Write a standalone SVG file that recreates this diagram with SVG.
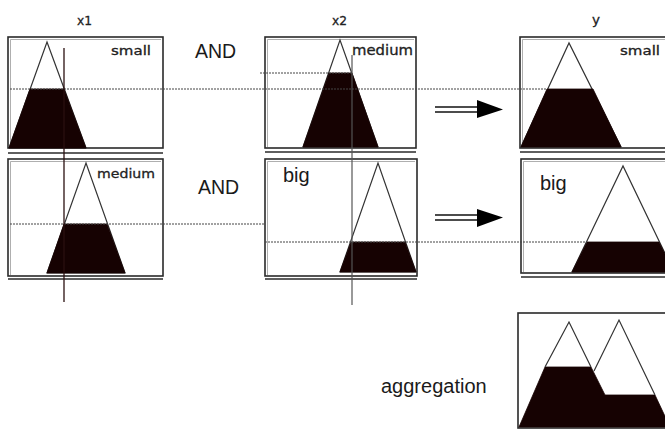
<svg xmlns="http://www.w3.org/2000/svg" width="665" height="429" viewBox="0 0 665 429">
<style>
.box{fill:#fff;stroke:#2a2a2a;stroke-width:1.6}
.inner{fill:none;stroke:#9a9a9a;stroke-width:0.8}
.base{stroke:#2a2a2a;stroke-width:1.4}
.tri{fill:none;stroke:#333;stroke-width:1.2;stroke-linejoin:miter}
.cut{fill:#160202;stroke:#160202;stroke-width:0.8}
.dot{stroke:#444;stroke-width:1;stroke-dasharray:2 1;fill:none}
.inp{stroke:#2a1010;stroke-width:1.3}
.inp2{stroke:#555;stroke-width:1.2}
.lbl{font-family:"DejaVu Sans",Verdana,sans-serif;fill:#222;stroke:#222;stroke-width:0.3}
.big{font-family:"Liberation Sans",Arial,sans-serif;fill:#1a1a1a}
.shaft{stroke:#111;stroke-width:1.6}
.head{fill:#000}
</style>

<g id="headers">
<text class="lbl" x="77" y="25" font-size="13" textLength="15" lengthAdjust="spacingAndGlyphs">x1</text>
<text class="lbl" x="332" y="25" font-size="13" textLength="15" lengthAdjust="spacingAndGlyphs">x2</text>
<text class="lbl" x="592" y="24" font-size="13" textLength="8" lengthAdjust="spacingAndGlyphs">y</text>
<text class="big" x="195" y="58" font-size="19.5">AND</text>
<text class="big" x="198" y="194" font-size="19.5">AND</text>
<text class="big" x="381" y="393" font-size="20">aggregation</text>
</g>

<g id="x1-small">
<rect class="box" x="8" y="37" width="155" height="111"/>
<polyline class="inner" points="10.5,147 10.5,39.5 161,39.5"/>
<line class="base" x1="8" y1="153" x2="163" y2="153"/>
<polygon class="tri" points="9,148 47,42 86,148"/>
<polygon class="cut" points="9,148 30,89 64,89 86,148"/>
<text class="lbl" x="111" y="55" font-size="12" textLength="40" lengthAdjust="spacingAndGlyphs">small</text>
</g>

<g id="x1-medium">
<rect class="box" x="8" y="159" width="155" height="117"/>
<polyline class="inner" points="10.5,275 10.5,161.5 161,161.5"/>
<line class="base" x1="8" y1="279" x2="163" y2="279"/>
<polygon class="tri" points="47,273 86,163 125,273"/>
<polygon class="cut" points="47,273 64,224 107,224 125,273"/>
<text class="lbl" x="97" y="178" font-size="13" textLength="58" lengthAdjust="spacingAndGlyphs">medium</text>
</g>

<g id="x2-medium">
<rect class="box" x="265" y="37" width="151" height="111"/>
<polyline class="inner" points="267.5,147 267.5,39.5 414,39.5"/>
<line class="base" x1="265" y1="152" x2="416" y2="152"/>
<polygon class="tri" points="303,147 340,40 378,147"/>
<polygon class="cut" points="303,147 329,73 352,73 378,147"/>
<text class="lbl" x="352" y="55" font-size="14" textLength="61" lengthAdjust="spacingAndGlyphs">medium</text>
</g>

<g id="x2-big">
<rect class="box" x="265" y="159" width="152" height="117"/>
<polyline class="inner" points="267.5,275 267.5,161.5 415,161.5"/>
<line class="base" x1="265" y1="279" x2="417" y2="279"/>
<polygon class="tri" points="340,272 378,163 416,272"/>
<polygon class="cut" points="340,272 351,242 405,242 416,272"/>
<text class="big" x="283" y="182" font-size="20">big</text>
</g>

<g id="y-small">
<rect class="box" x="520" y="37" width="170" height="111"/>
<polyline class="inner" points="522.5,147 522.5,39.5 690,39.5"/>
<line class="base" x1="520" y1="152" x2="690" y2="152"/>
<polygon class="tri" points="521,147 569,43 621,147"/>
<polygon class="cut" points="521,147 547,89 593,89 621,147"/>
<text class="lbl" x="620" y="55" font-size="12" textLength="40" lengthAdjust="spacingAndGlyphs">small</text>
</g>

<g id="y-big">
<rect class="box" x="521" y="159" width="170" height="114"/>
<polyline class="inner" points="523.5,272 523.5,161.5 690,161.5"/>
<line class="base" x1="521" y1="277" x2="690" y2="277"/>
<polygon class="tri" points="572,272 623,166 674,272"/>
<polygon class="cut" points="572,272 587,242 659,242 674,272"/>
<text class="big" x="540" y="190" font-size="20">big</text>
</g>

<g id="aggregation">
<rect class="box" x="518" y="313" width="170" height="115"/>
<polygon class="cut" points="519,427 545,367 591,367 605,395 655,395 670,427"/>
<polyline class="tri" points="545,367 569,322 591,367"/>
<polyline class="tri" points="594,371 619,320 655,395"/>
</g>

<g id="connectors">
<line class="dot" x1="10" y1="89" x2="547" y2="89"/>
<line class="dot" x1="260" y1="73" x2="352" y2="73"/>
<line class="dot" x1="10" y1="224" x2="264" y2="224"/>
<line class="dot" x1="265" y1="242" x2="587" y2="242"/>
<line class="inp" x1="64" y1="48" x2="64" y2="302"/>
<line class="inp2" x1="352" y1="55" x2="352" y2="305"/>
<line class="shaft" x1="435" y1="107" x2="478" y2="107"/>
<line class="shaft" x1="435" y1="112" x2="478" y2="112"/>
<polygon class="head" points="477,100 503,109.5 477,118"/>
<line class="shaft" x1="435" y1="215" x2="478" y2="215"/>
<line class="shaft" x1="435" y1="220" x2="478" y2="220"/>
<polygon class="head" points="477,209 503,217.5 477,227"/>
</g>
</svg>
